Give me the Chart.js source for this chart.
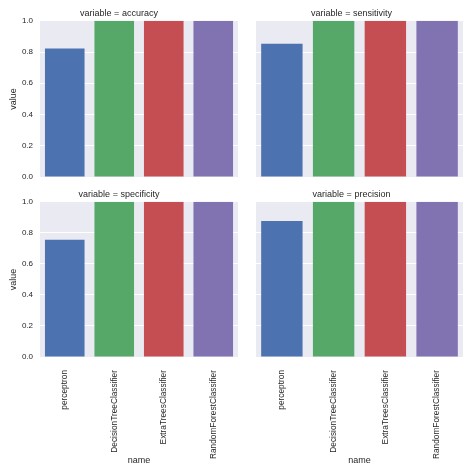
<!DOCTYPE html>
<html>
<head>
<meta charset="utf-8">
<script src="https://cdn.jsdelivr.net/npm/chart.js@4/dist/chart.umd.min.js"></script>
<style>
    html, body { margin: 0; padding: 0; background: #fff; }
    #wrap { position: relative; width: 474px; height: 474px; }
    .panel { position: absolute; }
</style>
</head>
<body>
<div id="wrap">
    <div class="panel" style="left:0;top:0;width:240px;height:189px;"><canvas id="c0"></canvas></div>
    <div class="panel" style="left:240px;top:0;width:234px;height:189px;"><canvas id="c1"></canvas></div>
    <div class="panel" style="left:0;top:180px;width:240px;height:294px;"><canvas id="c2"></canvas></div>
    <div class="panel" style="left:240px;top:180px;width:234px;height:294px;"><canvas id="c3"></canvas></div>
</div>
<script>
const models = ['perceptron', 'DecisionTreeClassifier', 'ExtraTreesClassifier', 'RandomForestClassifier'];
const metrics = ['accuracy', 'sensitivity', 'specificity', 'precision'];
const accuracy = [0.823, 1.0, 1.0, 1.0];
const sensitivity = [0.853, 1.0, 1.0, 1.0];
const specificity = [0.755, 1.0, 1.0, 1.0];
const precision = [0.876, 1.0, 1.0, 1.0];
const yTicks = [0.0, 0.2, 0.4, 0.6, 0.8, 1.0];
const barColors = ['#4C72B0', '#55A868', '#C44E52', '#8172B2'];

const seriesByMetric = { accuracy, sensitivity, specificity, precision };
const FONT = 'Liberation Sans, Arial, sans-serif';

// fond gris des facettes, style seaborn darkgrid
const panelBackground = {
    id: 'panelBackground',
    beforeDraw(chart) {
        const { ctx, chartArea } = chart;
        ctx.save();
        ctx.fillStyle = '#EAEAF2';
        ctx.fillRect(chartArea.left, chartArea.top, chartArea.right - chartArea.left, chartArea.bottom - chartArea.top);
        ctx.restore();
    }
};

function buildPanel(index) {
    const metric = metrics[index];
    const isLeft = index % 2 === 0;
    const isBottom = index >= 2;

    return new Chart(document.getElementById('c' + index), {
        type: 'bar',
        data: {
            labels: models,
            datasets: [{
                data: seriesByMetric[metric],
                backgroundColor: barColors,
                borderWidth: 0,
                barPercentage: 0.8,
                categoryPercentage: 1.0
            }]
        },
        options: {
            responsive: true,
            maintainAspectRatio: false,
            animation: false,
            layout: {
                padding: { left: 0, right: isLeft ? 2 : 11, top: 0, bottom: 0 }
            },
            plugins: {
                legend: { display: false },
                tooltip: { enabled: false },
                title: {
                    display: true,
                    text: 'variable = ' + metric,
                    color: '#262626',
                    font: { family: FONT, size: 9, weight: 'normal' },
                    padding: { top: isBottom ? 9 : 8, bottom: 2 }
                }
            },
            scales: {
                x: {
                    grid: { display: false },
                    border: { display: false },
                    ticks: {
                        display: isBottom,
                        autoSkip: false,
                        minRotation: 90,
                        maxRotation: 90,
                        padding: 5,
                        color: '#262626',
                        font: { family: FONT, size: 8.3 }
                    },
                    title: {
                        display: isBottom,
                        text: 'name',
                        color: '#262626',
                        font: { family: FONT, size: 9 },
                        padding: { top: 4, bottom: 8 }
                    },
                    afterFit(scale) {
                        // hauteur fixe pour aligner les facettes
                        scale.height = isBottom ? 117 : 12;
                    }
                },
                y: {
                    min: 0,
                    max: 1,
                    afterBuildTicks(scale) {
                        scale.ticks = yTicks.map(v => ({ value: v }));
                    },
                    grid: { color: '#ffffff', lineWidth: 1, drawTicks: false },
                    border: { display: false },
                    ticks: {
                        display: isLeft,
                        padding: 7,
                        color: '#262626',
                        font: { family: FONT, size: 8 },
                        callback: v => Number(v).toFixed(1)
                    },
                    title: {
                        display: isLeft,
                        text: 'value',
                        color: '#262626',
                        font: { family: FONT, size: 9 },
                        padding: { top: 8, bottom: 2 }
                    },
                    afterFit(scale) {
                        scale.width = isLeft ? 40 : 16;
                    }
                }
            }
        },
        plugins: [panelBackground]
    });
}

metrics.forEach((m, i) => buildPanel(i));
</script>
</body>
</html>
